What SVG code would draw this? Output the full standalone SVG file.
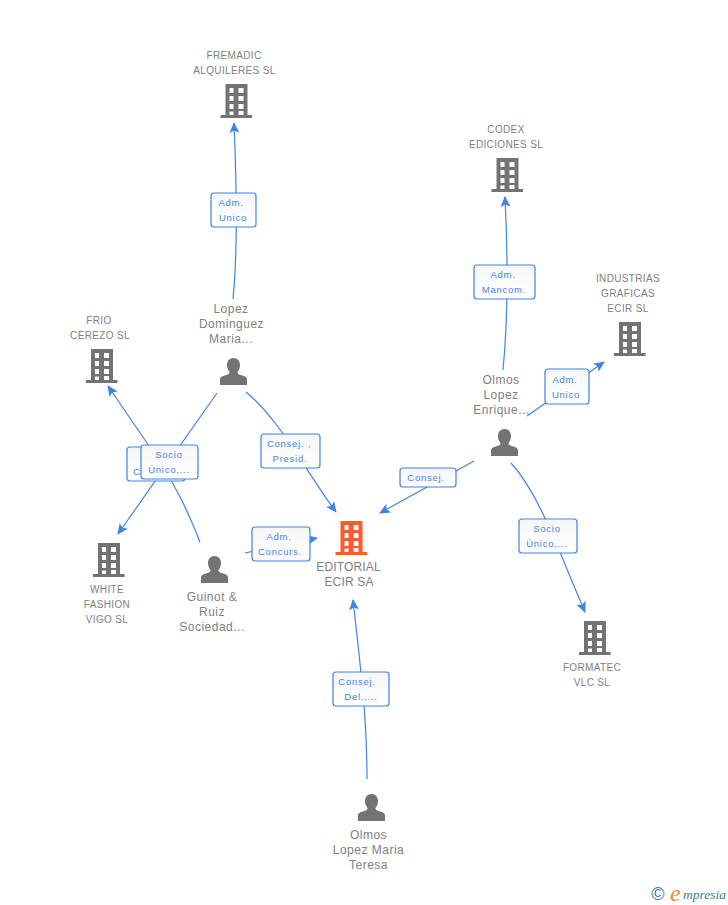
<svg xmlns="http://www.w3.org/2000/svg" width="728" height="905" viewBox="0 0 728 905">
<style>
text{font-family:"Liberation Sans",Arial,sans-serif}
.n{font-size:10px;fill:#808080;text-anchor:middle;letter-spacing:.35px}
.p{font-size:12px;fill:#808080;text-anchor:middle;letter-spacing:.5px}
.m{font-size:12px;fill:#808080;text-anchor:middle;letter-spacing:.15px}
.l{font-size:9.5px;fill:#3f84e5;text-anchor:middle;letter-spacing:.75px}
.b{fill:url(#g);stroke:#3f84e5;stroke-width:1.2}
.c{fill:none;stroke:#3f84e5;stroke-width:1.2}
</style>
<defs>
<linearGradient id="g" x1="0" y1="0" x2="0" y2="1"><stop offset="0" stop-color="#f6f6f6"/><stop offset="1" stop-color="#fff"/></linearGradient>
<marker id="a" markerWidth="12" markerHeight="10" refX="10" refY="5" orient="auto" markerUnits="userSpaceOnUse"><path d="M0 0L11 5L0 10L2.500 5Z" fill="#3f84e5"/></marker>
<path id="bd" fill-rule="evenodd" d="M5 0H27V31H31.500V34H0V31H5ZM9 4V9H13V4ZM18 4V9H23V4ZM9 12V17H13V12ZM18 12V17H23V12ZM9 20V25H13V20ZM18 20V25H23V20ZM9 27.500V31H13V27.500ZM18 27V31H23V27Z"/>
<path id="pr" d="M13.500 0C17.500 0 20 3 20 7C20 10 18.800 12.500 17.500 14C17.500 15.500 18 16 20 16.800C24 18 27 19 27 21.500V27H0V21.500C0 19 3 18 7 16.800C9 16 9.500 15.500 9.500 14C8.200 12.500 7 10 7 7C7 3 9.500 0 13.500 0Z"/>
</defs>
<g id="connectors">
<path class="c" marker-end="url(#a)" d="M233 299Q239 240 234 123"/>
<path class="c" marker-end="url(#a)" d="M503 370Q510 300 505 197"/>
<path class="c" marker-end="url(#a)" d="M527 416L604 362"/>
<path class="c" marker-end="url(#a)" d="M474 461L380 513"/>
<path class="c" marker-end="url(#a)" d="M511 463C540 495 558 550 585 612"/>
<path class="c" marker-end="url(#a)" d="M246 392C280 420 305 470 336 512"/>
<path class="c" marker-end="url(#a)" d="M217 393L118 534"/>
<path class="c" marker-end="url(#a)" d="M200 542C188 512 178 490 160 462L108 386"/>
<path class="c" marker-end="url(#a)" d="M245 553L317 538"/>
<path class="c" marker-end="url(#a)" d="M367 779C367 720 362 680 353 600"/>
</g>
<g id="edge-labels">
<g><rect class="b" x="211" y="193" width="45" height="34" rx="3"/><text class="l" x="231" y="206">Adm.</text><text class="l" x="233" y="221">Unico</text></g>
<g><rect class="b" x="474" y="265" width="61" height="34" rx="3"/><text class="l" x="503" y="278">Adm.</text><text class="l" x="504" y="293">Mancom.</text></g>
<g><rect class="b" x="545" y="369" width="44" height="35" rx="3"/><text class="l" x="565" y="383">Adm.</text><text class="l" x="566" y="398">Unico</text></g>
<g><rect class="b" x="400" y="468" width="56" height="19" rx="3"/><text class="l" x="426" y="481">Consej.</text></g>
<g><rect class="b" x="519" y="519" width="58" height="34" rx="3"/><text class="l" x="547" y="532">Socio</text><text class="l" x="547" y="547">Único,...</text></g>
<g><rect class="b" x="261" y="434" width="59" height="34" rx="3"/><text class="l" x="289" y="447">Consej. ,</text><text class="l" x="290" y="462">Presid.</text></g>
<g><rect class="b" x="252" y="527" width="58" height="34" rx="3"/><text class="l" x="279" y="540">Adm.</text><text class="l" x="280" y="555">Concurs.</text></g>
<g><rect class="b" x="333" y="672" width="56" height="34" rx="3"/><text class="l" x="357" y="685">Consej.</text><text class="l" x="361" y="700">Del.,...</text></g>
<g><rect class="b" x="127" y="447" width="58" height="34" rx="3"/><text class="l" x="152" y="475">Consej.</text></g>
<g><rect class="b" x="141" y="445" width="57" height="34" rx="3"/><text class="l" x="169" y="458">Socio</text><text class="l" x="169" y="473">Único,...</text></g>
</g>
<g id="fremadic" fill="#737373"><use href="#bd" x="220.500" y="84"/><text class="n" x="234" y="59">FREMADIC</text><text class="n" x="234.500" y="74">ALQUILERES SL</text></g>
<g id="codex" fill="#737373"><use href="#bd" x="491.500" y="158"/><text class="n" x="506" y="133">CODEX</text><text class="n" x="506" y="148">EDICIONES SL</text></g>
<g id="industrias" fill="#737373"><use href="#bd" x="614" y="322"/><text class="n" x="628" y="282">INDUSTRIAS</text><text class="n" x="628" y="297">GRAFICAS</text><text class="n" x="628" y="312">ECIR SL</text></g>
<g id="frio" fill="#737373"><use href="#bd" x="86" y="349"/><text class="n" x="99" y="324">FRIO</text><text class="n" x="100" y="339">CEREZO SL</text></g>
<g id="white" fill="#737373"><use href="#bd" x="93" y="543"/><text class="n" x="107" y="593">WHITE</text><text class="n" x="107" y="608">FASHION</text><text class="n" x="107" y="623">VIGO SL</text></g>
<g id="formatec" fill="#737373"><use href="#bd" x="579" y="621"/><text class="n" x="592" y="671">FORMATEC</text><text class="n" x="592" y="686">VLC SL</text></g>
<g id="editorial" fill="#ff5a2b"><use href="#bd" x="335.500" y="521"/><text class="m" x="348.500" y="571">EDITORIAL</text><text class="m" x="349" y="586">ECIR SA</text></g>
<g id="lopez" fill="#737373"><use href="#pr" x="220" y="358"/><text class="p" x="231" y="313">Lopez</text><text class="p" x="231.500" y="328">Dominguez</text><text class="p" x="231" y="343">Maria...</text></g>
<g id="olmos-enrique" fill="#737373"><use href="#pr" x="491" y="429"/><text class="p" x="501" y="384">Olmos</text><text class="p" x="501" y="399">Lopez</text><text class="p" x="501.500" y="414">Enrique...</text></g>
<g id="guinot" fill="#737373"><use href="#pr" x="201" y="556"/><text class="p" x="212" y="601">Guinot &amp;</text><text class="p" x="212" y="616">Ruiz</text><text class="p" x="212" y="631">Sociedad...</text></g>
<g id="olmos-maria" fill="#737373"><use href="#pr" x="358" y="794"/><text class="p" x="368.500" y="839">Olmos</text><text class="p" x="368.500" y="854">Lopez Maria</text><text class="p" x="368.500" y="869">Teresa</text></g>
<g id="brand"><text x="658" y="900" font-size="18" fill="#3c7d96" text-anchor="middle">©</text><text x="670" y="901" style="font-family:'Liberation Serif',serif" font-style="italic" font-size="24" fill="#f08a24">e</text><text x="683" y="899" style="font-family:'Liberation Serif',serif" font-style="italic" font-size="13.500" fill="#3c7d96">mpresia</text></g>
</svg>
